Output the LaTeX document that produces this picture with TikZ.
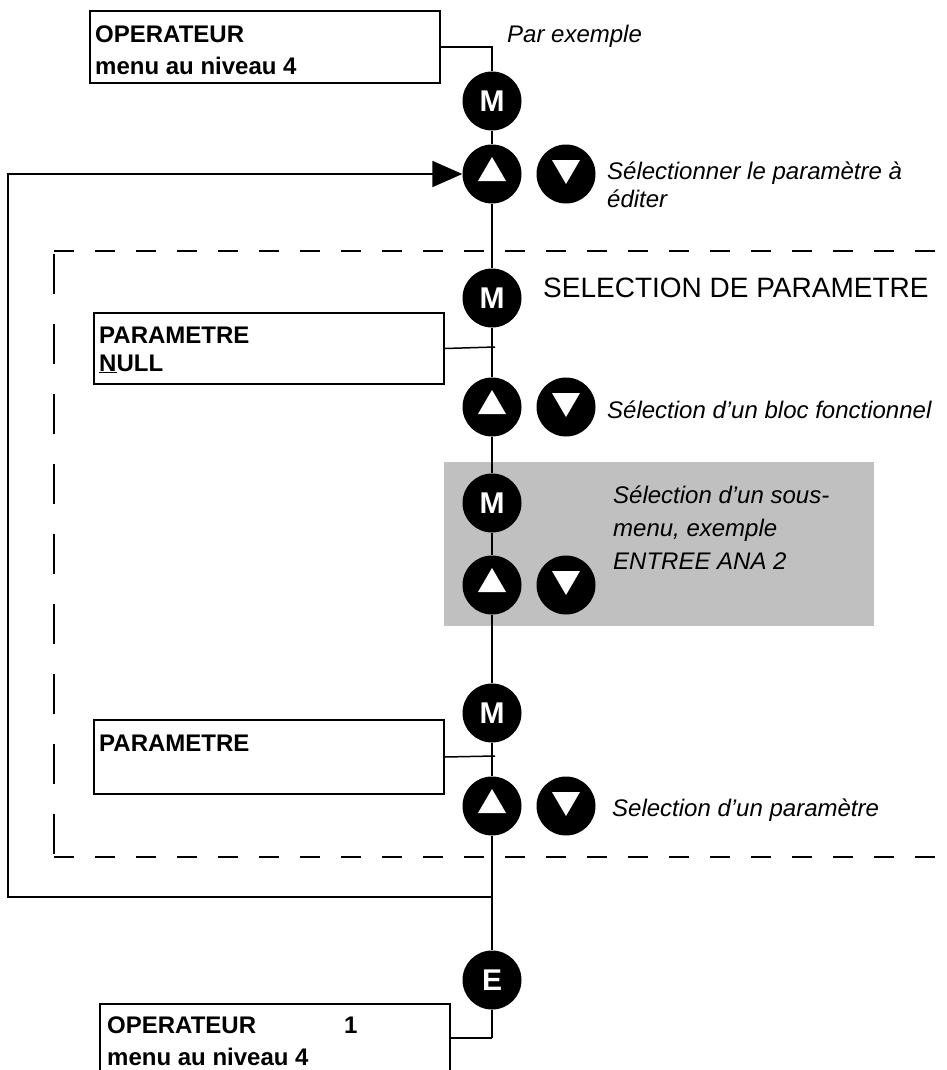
\documentclass[tikz,border=0pt]{standalone}
\usepackage{fontspec}
\setmainfont{Liberation Sans}
\usetikzlibrary{arrows.meta}
\definecolor{panelgray}{HTML}{C0C0C0}

\begin{document}
\begin{tikzpicture}[x=1pt,y=-1pt,
    btn/.style={circle,fill=black,minimum size=59pt,inner sep=0pt,text=white,font=\fontsize{30}{30}\selectfont\bfseries},
    upbtn/.style={btn,path picture={\fill[white] ([shift={(-14pt,-7pt)}]path picture bounding box.center) -- ++(28pt,0pt) -- ++(-14pt,24pt) -- cycle;}},
    dnbtn/.style={btn,path picture={\fill[white] ([shift={(-14pt,14pt)}]path picture bounding box.center) -- ++(28pt,0pt) -- ++(-14pt,-24pt) -- cycle;}},
    disp/.style={draw,line width=2pt,rectangle,inner sep=0pt,anchor=north west,minimum width=350pt},
    disptxt/.style={anchor=base west,inner sep=0pt,font=\fontsize{24}{24}\selectfont\bfseries},
    note/.style={anchor=base west,inner sep=0pt,align=left,font=\fontsize{24}{28}\selectfont\itshape},
    wire/.style={line width=2pt},
    thinwire/.style={line width=1.5pt},
    frame/.style={line width=1.2pt,dash pattern=on 20pt off 21pt}]
    \path[use as bounding box,fill=white] (0,0) rectangle (946,1070);
    \fill[panelgray] (444,462) rectangle (874,626);
    % dashed frame of the parameter selection
    \draw[frame] (54,251) -- (946,251);
    \draw[frame] (54,857) -- (946,857);
    \draw[frame,dash pattern=on 40pt off 30pt] (54,254) -- (54,857);

    \node[disp,minimum height=72pt] (opA) at (89,10) {};
    \node[disptxt] (opAa) at ([shift={(6,33)}]opA.north west) {OPERATEUR};
    \node[disptxt] (opAb) at ([shift={(6,65)}]opA.north west) {menu au niveau 4};
    \node[disp,minimum height=71pt] (pB) at (93,312) {};
    \node[disptxt] (pBa) at ([shift={(6,31)}]pB.north west) {PARAMETRE};
    \node[disptxt] (pBb) at ([shift={(6,59)}]pB.north west) {\underline{N}ULL};
    \node[disp,minimum height=74pt] (pD) at (93,719) {};
    \node[disptxt] (pDa) at ([shift={(6,32)}]pD.north west) {PARAMETRE};
    \node[disp,minimum height=68pt] (opE) at (99,1003) {};
    \node[disptxt] (opEa) at ([shift={(8,30)}]opE.north west) {OPERATEUR\hspace{88pt}1};
    \node[disptxt] (opEb) at ([shift={(8,62)}]opE.north west) {menu au niveau 4};

    \node[btn] (mA) at (492,101) {M};
    \node[upbtn] (upA) at (492,174) {};
    \node[dnbtn] (dnA) at (566,174) {};
    \node[btn] (mB) at (492,298) {M};
    \node[upbtn] (upB) at (492,407) {};
    \node[dnbtn] (dnB) at (566,407) {};
    \node[btn] (mC) at (492,503) {M};
    \node[upbtn] (upC) at (492,585) {};
    \node[dnbtn] (dnC) at (566,585) {};
    \node[btn] (mD) at (492,713) {M};
    \node[upbtn] (upD) at (492,806) {};
    \node[dnbtn] (dnD) at (566,806) {};
    \node[btn] (eA) at (492,980) {E};

    \node[note] (nA) at (507,43) {Par exemple};
    \node[note] (nB) at (607,207) {Sélectionner le paramètre à\\éditer};
    \node[anchor=base west,inner sep=0pt,font=\fontsize{28}{28}\selectfont] (title) at (543,297) {SELECTION DE PARAMETRE};
    \node[note] (nC) at (607,418) {Sélection d’un bloc fonctionnel};
    \node[note,font=\fontsize{24}{33}\selectfont\itshape] (nD) at (613,569) {Sélection d’un sous-\\menu, exemple\\ENTREE ANA 2};
    \node[note] (nE) at (612,816) {Selection d’un paramètre};

    \coordinate (jB) at (495,347);
    \coordinate (jD) at (495,756);
    \coordinate (ret) at (492,897);
    \coordinate (lft) at (8,174);
    \coordinate (cBot) at (492,1038);
    \draw[wire] (opA.east) -| (mA);
    \draw[wire] (mA) -- (upA) -- (mB) -- (upB) -- (mC) -- (upC) -- (mD) -- (upD) -- (eA) -- (cBot);
    \draw[thinwire] (pB.east) -- (jB);
    \draw[thinwire] (pD.east) -- (jD);
    \draw[thinwire] (opE.east) -- (cBot);
    \draw[wire,-{Triangle[length=30pt,width=26pt]}] (ret) -| (lft) -- (upA);
\end{tikzpicture}
\end{document}
